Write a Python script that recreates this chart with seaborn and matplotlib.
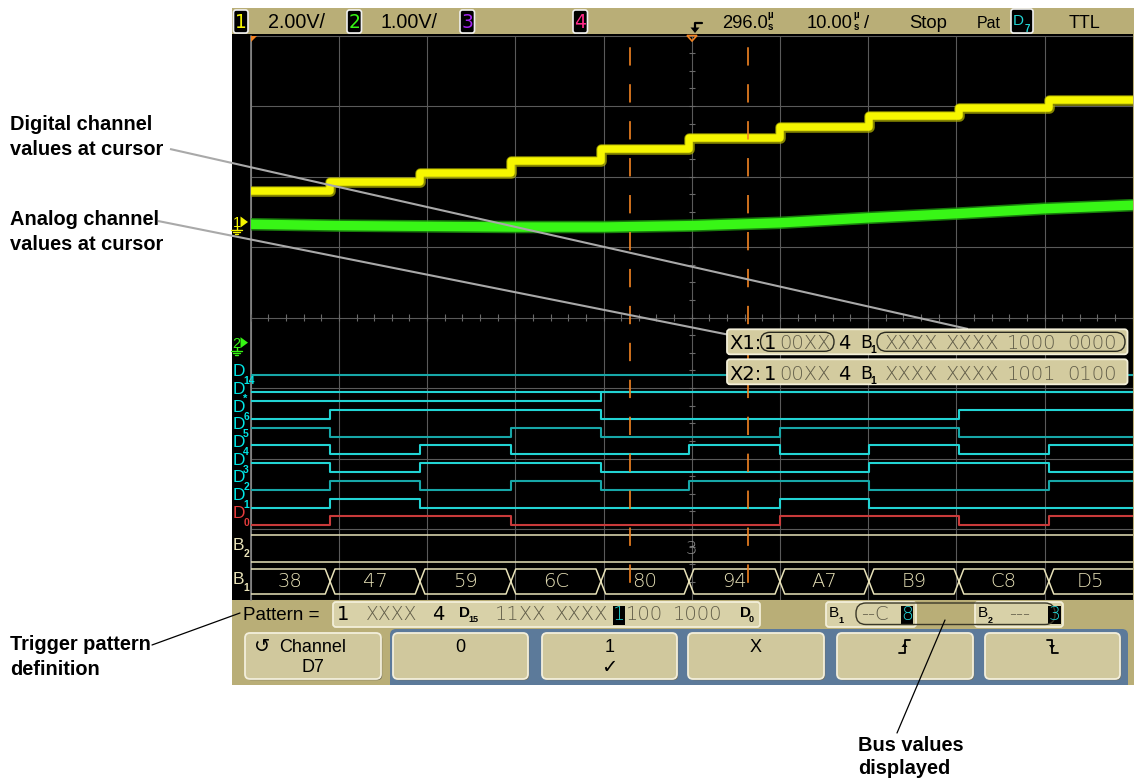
import os
import numpy as np
import pandas as pd
import matplotlib
matplotlib.use("Agg")
import matplotlib.pyplot as plt
import matplotlib.font_manager as fm
from matplotlib.patches import Rectangle, FancyBboxPatch, Polygon
from matplotlib.transforms import blended_transform_factory
import seaborn as sns

# ---------------- data ----------------
bus_b1_values = ["38", "47", "59", "6C", "80", "94", "A7", "B9", "C8", "D5"]
bus_edges_us = [255.0, 265.2, 275.5, 285.7, 295.7, 306.0, 316.1, 326.3, 336.5]
ch1_step_volts = [0.88, 1.12, 1.40, 1.74, 2.07, 2.39, 2.70, 3.00, 3.24, 3.46]
ch2_times_us = [246, 256, 266, 276, 286, 296, 306, 316, 326, 336, 346]
ch2_volts = [1.68, 1.66, 1.65, 1.64, 1.64, 1.66, 1.70, 1.77, 1.83, 1.90, 1.95]
static_high_channels = ["D14", "D*"]
cursor_names = ["X1", "X2"]
cursor_times_us = [289.0, 302.4]
cursor_analog_states = ["00XX", "00XX"]
b2_bus_value = "3"
trigger_pattern_bits = "11XXXXXX11001000"   # D15 ... D0
trigger_selected_channel = 7
trigger_analog_pattern = "XXXX"
b2_pattern = "---3"
ch1_v_per_div, ch2_v_per_div = 2.0, 1.0
ch1_ground_div, ch2_ground_div = 5.355, 3.643
time_center_us, time_per_div_us = 296.0, 10.0
top_bar_labels = ["2.00V/", "1.00V/", "296.0", "10.00", "Stop", "Pat", "TTL"]
softkeys = ["0", "1", "X"]
notes = ["Digital channel\nvalues at cursor", "Analog channel\nvalues at cursor",
         "Trigger pattern\ndefinition", "Bus values\ndisplayed"]

# ---------------- fonts ----------------
sns.set_theme(style="white")
plt.rcParams["font.family"] = ["DejaVu Sans"]
plt.rcParams["lines.scale_dashes"] = False
_files = {os.path.basename(f.fname): f.fname for f in fm.fontManager.ttflist}


def pick(*names):
    for n in names:
        if n in _files:
            return _files[n]
    return None


F_REG = pick("LiberationSans-Regular.ttf", "DejaVuSans.ttf")
F_BOLD = pick("LiberationSans-Bold.ttf", "DejaVuSans-Bold.ttf")
F_DIG = pick("DejaVuSans.ttf")
F_LIGHT = pick("DejaVuSans-ExtraLight.ttf", "Roboto-Light.ttf", "DejaVuSans.ttf")


def fp(path, size):
    p = fm.FontProperties(fname=path) if path else fm.FontProperties(family="DejaVu Sans")
    p.set_size(size)
    return p


# ---------------- figure / layout ----------------
W, H = 1134, 780
fig = plt.figure(figsize=(W / 100, H / 100), dpi=100, facecolor="white")

bg = fig.add_axes([0, 0, 1, 1])
bg.set_xlim(0, W); bg.set_ylim(H, 0); bg.axis("off"); bg.set_zorder(0)

TAN = "#b9ae77"
bg.add_patch(Rectangle((232, 8), 902, 677, fc=TAN, ec="none"))
bg.add_patch(Rectangle((232, 34), 900.7, 565.5, fc="black", ec="none"))
bg.add_patch(FancyBboxPatch((390, 629), 738, 60, boxstyle="round,pad=0,rounding_size=6",
                            fc="#5c7a9a", ec="none"))
bg.add_patch(Rectangle((390, 660), 738, 25, fc="#5c7a9a", ec="none"))
bg.add_patch(Rectangle((232, 685), 902, 20, fc="white", ec="none"))

L, R, T_, B_ = 250.7, 1132.7, 35.5, 599.5
PXY = (B_ - T_) / 8.0


def ydiv(px):
    return (B_ - px) / PXY


ax = fig.add_axes([L / W, 1 - B_ / H, (R - L) / W, (B_ - T_) / H])
ax.set_zorder(1)
t0 = time_center_us - 5 * time_per_div_us
t1 = time_center_us + 5 * time_per_div_us
ax.set_xlim(t0, t1); ax.set_ylim(0, 8)
ax.set_facecolor("black")
for s in ax.spines.values():
    s.set_visible(False)
ax.set_xticks(np.arange(t0, t1 + 0.01, time_per_div_us))
ax.set_yticks(np.arange(0, 9, 1))
ax.tick_params(length=0, labelbottom=False, labelleft=False)
ax.grid(True, color="#5a5a5a", lw=0.8)
ax.axvline(t0, color="#8a8a8a", lw=1.2, clip_on=False)
# small graticule ticks on the centre lines
ax.hlines(np.arange(0, 8.01, 0.25), time_center_us - 0.35, time_center_us + 0.35, color="#6a6a6a", lw=0.8)
ax.vlines(np.arange(t0, t1 + 0.01, time_per_div_us / 5), 4 - 0.05, 4 + 0.05, color="#6a6a6a", lw=0.8)

step_t = [t0] + bus_edges_us + [t1]

# analog channel 1 (yellow staircase)
ch1_div = [ch1_ground_div + v / ch1_v_per_div for v in ch1_step_volts]
df1 = pd.DataFrame({"t": step_t, "div": ch1_div + [ch1_div[-1]]})
for col, lw, al in (("#b4b400", 7.6, 0.75), ("#f6f600", 5.4, 1.0)):
    sns.lineplot(data=df1, x="t", y="div", ax=ax, color=col, lw=lw, alpha=al, drawstyle="steps-post",
                 estimator=None, sort=False, legend=False)

# analog channel 2 (green)
df2 = pd.DataFrame({"t": ch2_times_us, "div": [ch2_ground_div + v / ch2_v_per_div for v in ch2_volts]})
for col, lw, al in (("#1f9a10", 9.0, 0.8), ("#38f616", 6.8, 1.0)):
    sns.lineplot(data=df2, x="t", y="div", ax=ax, color=col, lw=lw, alpha=al,
                 estimator=None, sort=False, legend=False)

# digital channels
seg_vals = [int(v, 16) for v in bus_b1_values]
row_names = ["0", "1", "2", "3", "4", "5", "6", "*", "14"]
D0_LOW_PX, ROW_PX, HIGH_PX = 525.3, 17.7, 9.0
dark_rows = {"2", "5", "14"}
tr = blended_transform_factory(ax.transAxes, ax.transData)
for r, name in enumerate(row_names):
    low_px = D0_LOW_PX - r * ROW_PX
    col = "#c93a3a" if name == "0" else ("#17a7a8" if name in dark_rows else "#22d4d4")
    layers = []
    if name.isdigit() and int(name) < 8:
        layers.append([(v >> int(name)) & 1 for v in seg_vals])
    if name == "*":
        layers.append([1] * len(seg_vals))
        layers.append([(v >> 7) & 1 for v in seg_vals])
    if name == "14":
        layers.append([1] * len(seg_vals))
    for lv in layers:
        yy = [ydiv(low_px - b * HIGH_PX) for b in lv]
        d = pd.DataFrame({"t": step_t, "div": yy + [yy[-1]]})
        sns.lineplot(data=d, x="t", y="div", ax=ax, color=col, lw=1.5, drawstyle="steps-post",
                     estimator=None, sort=False, legend=False)
    # channel labels in the left strip
    lab_col = "#e63c3c" if name == "0" else "#00e6e6"
    ax.text(-0.0205, ydiv(low_px - 12), "D", transform=tr,
            fontproperties=fp(F_REG, 12.5), color=lab_col, ha="left", va="center", clip_on=False)
    ax.text(-0.0085, ydiv(low_px - 2.5), name, transform=tr,
            fontproperties=fp(F_BOLD, 8 if name == "*" else 7.5), color=lab_col, ha="left", va="center",
            clip_on=False)

# buses
BUS = "#e8e2b8"
top, bot = ydiv(569), ydiv(594)
mid = (top + bot) / 2
dx = 0.55
for i, val in enumerate(bus_b1_values):
    s, e = step_t[i], step_t[i + 1]
    if i == 0:
        pts = [(s, top), (e - dx, top), (e, mid), (e - dx, bot), (s, bot)]
    elif i == len(bus_b1_values) - 1:
        pts = [(e, top), (s + dx, top), (s, mid), (s + dx, bot), (e, bot)]
    else:
        pts = [(s, mid), (s + dx, top), (e - dx, top), (e, mid), (e - dx, bot), (s + dx, bot), (s, mid)]
    xs, ys = zip(*pts)
    ax.plot(xs, ys, color=BUS, lw=1.1)
    ax.text((s + e) / 2, mid, val, fontproperties=fp(F_LIGHT, 14), color=BUS, ha="center", va="center")
ax.hlines([ydiv(535), ydiv(562)], t0, t1, color=BUS, lw=1.1)
ax.text(time_center_us, (ydiv(535) + ydiv(562)) / 2, b2_bus_value, fontproperties=fp(F_LIGHT, 13),
        color="#8e8e8e", ha="center", va="center")
for lab, sub, ypx in (("B", "2", 548), ("B", "1", 582)):
    ax.text(-0.0205, ydiv(ypx - 2), lab, transform=tr,
            fontproperties=fp(F_REG, 12.5), color=BUS, ha="left", va="center", clip_on=False)
    ax.text(-0.0085, ydiv(ypx + 6), sub, transform=tr,
            fontproperties=fp(F_BOLD, 7.5), color=BUS, ha="left", va="center", clip_on=False)

# cursors
for ct in cursor_times_us:
    ax.plot([ct, ct], [8, 0], color="#f28322", lw=1.2, linestyle=(18.5, (13.2, 13.4)))

# ---------------- overlay (pixel space) ----------------
ov = fig.add_axes([0, 0, 1, 1])
ov.set_xlim(0, W); ov.set_ylim(H, 0); ov.axis("off"); ov.set_zorder(3)


def txt(x, y, s, size, path=None, color="black", ha="left", va="baseline", z=6, a=ov):
    a.text(x, y, s, fontproperties=fp(path or F_REG, size), color=color, ha=ha, va=va, zorder=z)


def rbox(x, y, w, h, fc, ec="none", lw=1.0, r=3, z=4, a=ov):
    a.add_patch(FancyBboxPatch((x, y), w, h, boxstyle=f"round,pad=0,rounding_size={r}",
                               fc=fc, ec=ec, lw=lw, zorder=z))


# analog ground markers
for lab, col, gdiv in (("1", "#f4f400", ch1_ground_div), ("2", "#36f514", ch2_ground_div)):
    yp = B_ - gdiv * PXY
    txt(232.5, yp + 5.5, lab, 10.5, F_REG, col)
    ov.add_patch(Polygon([(240.5, yp - 5.5), (240.5, yp + 5.5), (248, yp)], closed=True, fc=col, ec="none", zorder=6))
    ov.plot([236.5, 236.5], [yp + 4, yp + 8], color=col, lw=1.0, zorder=6)
    for k, hw in enumerate((5.5, 3.5, 1.5)):
        ov.plot([236.5 - hw, 236.5 + hw], [yp + 8 + 2 * k, yp + 8 + 2 * k], color=col, lw=1.0, zorder=6)

# small orange markers at top of screen
ov.add_patch(Polygon([(251, 36), (257, 36), (251, 42)], closed=True, fc="#f28322", ec="none", zorder=6))
ov.add_patch(Polygon([(687, 35.5), (697, 35.5), (692, 41)], closed=True, fc="none", ec="#f28322", lw=1.2, zorder=6))

# top bar
for (x0, lab, col) in ((233.5, "1", "#f4f400"), (347, "2", "#36f514"), (460, "3", "#a424f0"), (573, "4", "#ff2a88")):
    rbox(x0, 10, 14.5, 23, "black", "#f0f0f0", 1.2, 2.5, 5)
    txt(x0 + 7.3, 28.5, lab, 13.5, F_DIG, col, ha="center")
txt(268, 28.5, top_bar_labels[0], 14.2, F_REG)
txt(381, 28.5, top_bar_labels[1], 14.2, F_REG)
txt(722, 28.5, top_bar_labels[2], 13.2, F_REG)
txt(807, 28.5, top_bar_labels[3], 13.2, F_REG)
for xm in (767, 853):
    txt(xm, 17.5, "µ", 7, F_BOLD)
    txt(xm + 0.5, 29.5, "s", 7, F_BOLD)
txt(864, 28.5, "/", 13.2, F_REG)
txt(909, 28.5, top_bar_labels[4], 13.3, F_REG)
txt(977, 28, top_bar_labels[5], 11.5, F_REG)
rbox(1011, 9, 22, 24, "black", "#f0f0f0", 1.2, 2.5, 5)
txt(1012.5, 25, "D", 11, F_REG, "#22d4d4")
txt(1025, 31.5, "7", 7, F_BOLD, "#22d4d4")
txt(1069, 28.5, top_bar_labels[6], 13, F_REG)
# trigger symbol
ov.plot([702, 695, 695], [22.5, 22.5, 29], color="black", lw=1.6, zorder=6)
ov.add_patch(Polygon([(690.5, 27.5), (699.5, 27.5), (695, 33)], closed=True, fc="black", ec="none", zorder=6))

# leader lines
ov.plot([170, 968], [149, 329], color="#a9a9a9", lw=1.5, zorder=3, solid_capstyle="butt")
ov.plot([158, 760], [221, 341], color="#a9a9a9", lw=1.5, zorder=3, solid_capstyle="butt")
ov.plot([152, 240], [645, 613], color="black", lw=0.9, zorder=7)
ov.plot([897, 945], [733, 620], color="black", lw=0.9, zorder=7)

# cursor readouts
GR = "#605c48"
for i, (nm, ct, ast) in enumerate(zip(cursor_names, cursor_times_us, cursor_analog_states)):
    y0 = 329.3 + 30 * i
    base = y0 + 19.7 + (1.0 if i else 0)
    rbox(727, y0, 400.5, 25, "#d3cb9f", "#f3efd9", 1.3, 3, 4)
    seg = int(np.searchsorted(bus_edges_us, ct, side="right"))
    bits = format(int(bus_b1_values[seg], 16), "08b")
    groups = ["XXXX", "XXXX", bits[:4], bits[4:]]
    txt(729, base, nm + ":", 14, F_DIG)
    txt(764, base, "1", 14, F_DIG)
    txt(779, base, ast, 14, F_LIGHT, GR)
    txt(838, base, "4", 14, F_DIG)
    txt(860, base - 1, "B", 12.5, F_DIG)
    txt(870.5, base + 4, "1", 7.5, F_BOLD)
    for g, gx in zip(groups, (885, 946, 1007, 1067)):
        txt(gx, base, g, 14, F_LIGHT, GR)
    if i == 0:
        rbox(760.5, y0 + 3, 73.5, 19, "none", "#2a2a20", 1.0, 9.5, 7)
        rbox(877, y0 + 3, 248, 19, "none", "#2a2a20", 1.0, 9.5, 7)

# notes on the left / bottom
for (nx, nb), note in zip(((10, 130), (10, 225), (10, 650), (858, 751)), notes):
    l1, l2 = note.split("\n")
    txt(nx, nb, l1, 14.4, F_BOLD)
    txt(nx, nb + (23 if nx > 500 else 25), l2, 14.4, F_BOLD)

# trigger pattern row
txt(243, 620, "Pattern =", 13.5, F_REG)
rbox(333, 602, 427, 25, "#d8d1a8", "#f3efd9", 1.3, 3, 4)
txt(337, 620, "1", 14, F_DIG)
txt(366, 620, trigger_analog_pattern, 13.5, F_LIGHT, GR)
txt(432, 620, "4", 14, F_DIG)
txt(459, 617, "D", 11, F_BOLD)
txt(468, 622, "15", 6.5, F_BOLD)
pb = trigger_pattern_bits
sel = 15 - trigger_selected_channel
txt(495, 620, pb[0:4], 14, F_LIGHT, GR)
txt(555, 620, pb[4:8], 14, F_LIGHT, GR)
ov.add_patch(Rectangle((613, 605.5), 12, 19, fc="black", ec="none", zorder=5))
txt(619, 620, pb[sel], 14, F_LIGHT, "#22d4d4", ha="center")
txt(626, 620, pb[sel + 1:12], 14, F_LIGHT, GR)
txt(673, 620, pb[12:16], 14, F_LIGHT, GR)
txt(740, 617, "D", 11, F_BOLD)
txt(749, 622, "0", 6.5, F_BOLD)

b1_hex = format(int(pb[8:], 2), "02X")
rbox(826, 602, 90, 25, "#d8d1a8", "#f3efd9", 1.3, 3, 4)
rbox(975, 602, 88, 25, "#d8d1a8", "#f3efd9", 1.3, 3, 4)
rbox(856, 603, 199, 21.5, "none", "#3a3828", 1.0, 10, 6)
txt(829, 617, "B", 11, F_REG)
txt(838.5, 623, "1", 6.5, F_BOLD)
txt(861, 620, "--" + b1_hex[0], 14, F_LIGHT, GR)
ov.add_patch(Rectangle((900.5, 606), 12.5, 18, fc="black", ec="none", zorder=5))
txt(906.8, 620, b1_hex[1], 13.5, F_LIGHT, "#22d4d4", ha="center")
txt(978, 617, "B", 11, F_REG)
txt(987.5, 623, "2", 6.5, F_BOLD)
txt(1009, 620, b2_pattern[:-1], 14, F_LIGHT, GR)
ov.add_patch(Rectangle((1048, 606), 12.5, 18, fc="black", ec="none", zorder=5))
txt(1054.3, 620, b2_pattern[-1], 13.5, F_LIGHT, "#22d4d4", ha="center")

# softkeys
BTN = "#d0c89d"
for (x0, x1) in ((245, 381), (393, 528), (542, 677), (688, 824), (837, 973), (985, 1120)):
    rbox(x0 + 1.2, 634.2, x1 - x0, 46, "#6e6a55", "none", 0, 5, 4)
    rbox(x0, 633, x1 - x0, 46, BTN, "#f3efdc", 1.3, 5, 5)
txt(262, 652, "\u21ba", 14, F_DIG, ha="center")
txt(313, 652, "Channel", 13, F_REG, ha="center")
txt(313, 672, "D7", 13, F_REG, ha="center")
txt(460.5, 652, softkeys[0], 13, F_REG, ha="center")
txt(609.5, 652, softkeys[1], 13, F_REG, ha="center")
txt(609.5, 673, "\u2713", 14, F_DIG, ha="center")
txt(756, 652, softkeys[2], 13, F_REG, ha="center")
# edge icons
ov.plot([899, 904.5, 904.5, 910], [653, 653, 640, 640], color="black", lw=1.3, zorder=6)
ov.add_patch(Polygon([(901.5, 647), (907.5, 647), (904.5, 643)], closed=True, fc="black", ec="none", zorder=6))
ov.plot([1046.5, 1052, 1052, 1057.5], [640, 640, 653, 653], color="black", lw=1.3, zorder=6)
ov.add_patch(Polygon([(1049, 645), (1055, 645), (1052, 649)], closed=True, fc="black", ec="none", zorder=6))

fig.savefig("out.png", dpi=100, facecolor="white")
